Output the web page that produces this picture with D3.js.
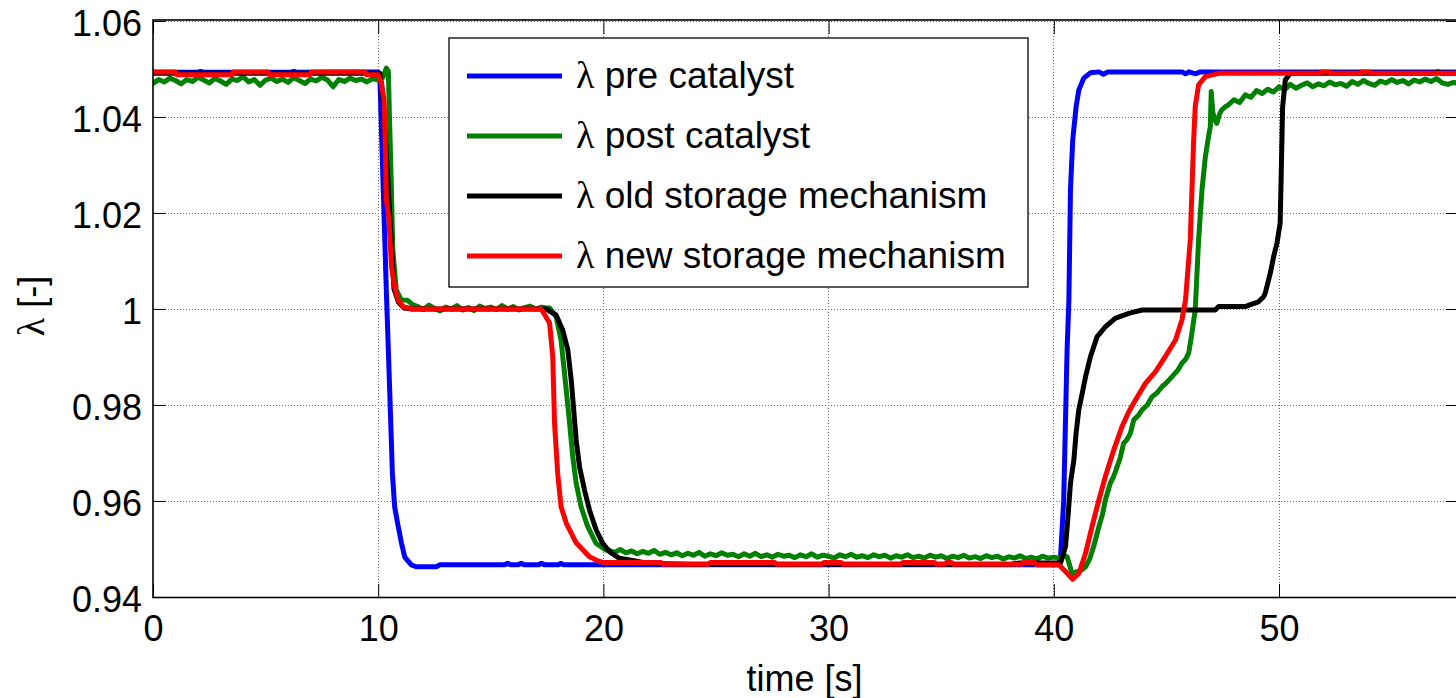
<!DOCTYPE html>
<html>
<head>
<meta charset="utf-8">
<script src="https://cdn.jsdelivr.net/npm/d3@7"></script>
<style>
  html, body { margin: 0; padding: 0; background: #fff; overflow: hidden; }
  svg { display: block; }
  text { font-family: "Liberation Sans", Arial, Helvetica, sans-serif; fill: #000; }
  .sym { font-family: "Liberation Serif", "Times New Roman", serif; }
</style>
</head>
<body>
<svg id="chart" width="1456" height="698"></svg>
<script>
// ---- Axis ticks ----
const xTicks = [0, 10, 20, 30, 40, 50];
const yTicks = [0.94, 0.96, 0.98, 1.00, 1.02, 1.04, 1.06];
const yTickLabels = ["0.94", "0.96", "0.98", "1", "1.02", "1.04", "1.06"];
const xLabel = "time [s]";
const yLabel = ["\u03bb", " [-]"];

// ---- Legend entries (plot order): symbol + description ----
const seriesNames = [
  ["\u03bb", " pre catalyst"],
  ["\u03bb", " post catalyst"],
  ["\u03bb", " old storage mechanism"],
  ["\u03bb", " new storage mechanism"]
];

// ---- Measured lambda traces, [time s, lambda] ----
const lambdaPre = [
  [0,1.0493],[2.0,1.0493],[2.1,1.0495],[2.3,1.0493],[6.1,1.0493],[6.25,1.0495],[6.45,1.0493],
  [10.0,1.0494],[10.07,1.0488],[10.36,1.0040],[10.51,0.9831],[10.63,0.9658],[10.73,0.9588],
  [10.86,0.9554],[11.03,0.9513],[11.18,0.9483],[11.47,0.9467],[11.69,0.9463],[12.58,0.9463],
  [12.73,0.9467],[15.6,0.9467],[15.75,0.9470],[15.9,0.9467],[16.2,0.9467],[16.35,0.9470],
  [16.5,0.9467],[17.1,0.9467],[17.25,0.9470],[17.4,0.9467],[18.0,0.9467],[18.1,0.9470],
  [18.25,0.9467],[40.22,0.9467],[40.30,0.9484],[40.44,0.9602],[40.59,0.9915],[40.67,1.0019],
  [40.74,1.0248],[40.84,1.0352],[40.99,1.0421],[41.11,1.0456],[41.33,1.0481],[41.63,1.0492],
  [42.0,1.0494],[42.2,1.0489],[42.4,1.0494],[45.7,1.0494],[45.85,1.0490],[46.0,1.0494],
  [46.3,1.0490],[46.5,1.0494],[58,1.0494]
];

const lambdaPost = [
  [0,1.0470],[0.25,1.0478],[0.5,1.0473],[0.75,1.0481],[1,1.0476],[1.25,1.0469],[1.5,1.0478],
  [1.75,1.0474],[2,1.0483],[2.25,1.0477],[2.5,1.0471],[2.75,1.0480],[3,1.0475],[3.25,1.0468],
  [3.5,1.0479],[3.75,1.0476],[4,1.0484],[4.25,1.0473],[4.5,1.0478],[4.75,1.0466],[5,1.0477],
  [5.25,1.0481],[5.5,1.0474],[5.75,1.0479],[6,1.0472],[6.25,1.0482],[6.5,1.0476],[6.75,1.0470],
  [7,1.0479],[7.25,1.0475],[7.5,1.0483],[7.75,1.0477],[8,1.0463],[8.25,1.0478],[8.5,1.0474],
  [8.75,1.0481],[9,1.0476],[9.25,1.0479],[9.5,1.0473],[9.75,1.0480],[10,1.0477],[10.2,1.0482],
  [10.36,1.0502],[10.45,1.0495],[10.5,1.0401],[10.58,1.0262],[10.65,1.0123],[10.8,1.0040],
  [11.02,1.0019],[11.3,1.0018],[11.5,1.0010],
  [11.75,1.0005],[12,0.9999],[12.25,1.0008],[12.5,1.0001],[12.75,0.9996],[13,1.0004],
  [13.25,1.0000],[13.5,1.0007],[13.75,0.9998],[14,1.0003],[14.25,0.9997],[14.5,1.0006],
  [14.75,1.0001],[15,1.0004],[15.25,0.9999],[15.5,1.0007],[15.75,1.0000],[16,1.0005],
  [16.25,0.9998],[16.5,1.0003],[16.75,1.0006],[17,1.0000],[17.25,1.0004],[17.45,1.0002],
  [17.61,1.0002],[17.9,0.9984],[18.12,0.9935],[18.35,0.9831],[18.5,0.9762],[18.64,0.9692],
  [18.79,0.9637],[19.01,0.9588],[19.3,0.9547],[19.67,0.9512],[20.1,0.9498],
  [20.25,0.9497],[20.5,0.9493],[20.75,0.9499],[21,0.9492],[21.25,0.9496],[21.5,0.9490],
  [21.75,0.9495],[22,0.9491],[22.25,0.9497],[22.5,0.9489],[22.75,0.9493],[23,0.9488],
  [23.25,0.9492],[23.5,0.9486],[23.75,0.9491],[24,0.9487],[24.25,0.9493],[24.5,0.9485],
  [24.75,0.9490],[25,0.9486],[25.25,0.9492],[25.5,0.9487],[25.75,0.9489],[26,0.9484],
  [26.25,0.9490],[26.5,0.9485],[26.75,0.9491],[27,0.9484],[27.25,0.9488],[27.5,0.9483],
  [27.75,0.9489],[28,0.9485],[28.25,0.9487],[28.5,0.9482],[28.75,0.9488],[29,0.9484],
  [29.25,0.9490],[29.5,0.9483],[29.75,0.9487],[30,0.9485],[30.25,0.9481],[30.5,0.9488],
  [30.75,0.9484],[31,0.9489],[31.25,0.9483],[31.5,0.9486],[31.75,0.9482],[32,0.9488],
  [32.25,0.9484],[32.5,0.9487],[32.75,0.9481],[33,0.9486],[33.25,0.9483],[33.5,0.9488],
  [33.75,0.9482],[34,0.9485],[34.25,0.9481],[34.5,0.9487],[34.75,0.9483],[35,0.9486],
  [35.25,0.9480],[35.5,0.9485],[35.75,0.9482],[36,0.9487],[36.25,0.9481],[36.5,0.9484],
  [36.75,0.9480],[37,0.9486],[37.25,0.9482],[37.5,0.9485],[37.75,0.9479],[38,0.9484],
  [38.25,0.9481],[38.5,0.9486],[38.75,0.9480],[39,0.9483],[39.25,0.9479],[39.5,0.9485],
  [39.75,0.9481],[40,0.9483],
  [40.22,0.9481],[40.45,0.9487],[40.59,0.9484],[40.81,0.9449],[41.03,0.9453],[41.2,0.9455],
  [41.41,0.9463],[41.6,0.9480],[41.77,0.9505],[42.0,0.9546],[42.15,0.9570],[42.29,0.9602],
  [42.51,0.9637],[42.65,0.9650],[42.81,0.9671],[42.95,0.9690],[43.10,0.9720],[43.25,0.9728],
  [43.40,0.9741],[43.55,0.9769],[43.75,0.9778],[43.92,0.9790],[44.15,0.9800],[44.36,0.9817],
  [44.6,0.9826],[44.80,0.9838],[45.0,0.9846],[45.25,0.9859],[45.5,0.9872],[45.69,0.9887],
  [45.85,0.9895],[45.99,0.9908],[46.13,0.9949],[46.28,0.9998],[46.43,1.0144],[46.58,1.0248],
  [46.73,1.0317],[46.87,1.0359],[46.95,1.0380],[46.99,1.0453],[47.06,1.0410],[47.14,1.0394],
  [47.24,1.0387],[47.35,1.0405],[47.46,1.0415],[47.61,1.0421],
  [47.75,1.0425],[48,1.0436],[48.25,1.0430],[48.5,1.0446],[48.75,1.0441],[49,1.0455],
  [49.25,1.0449],[49.5,1.0458],[49.75,1.0452],[50,1.0463],[50.25,1.0457],[50.5,1.0468],
  [50.75,1.0460],[51,1.0466],[51.25,1.0471],[51.5,1.0463],[51.75,1.0469],[52,1.0465],
  [52.25,1.0473],[52.5,1.0467],[52.75,1.0470],[53,1.0464],[53.25,1.0474],[53.5,1.0468],
  [53.75,1.0476],[54,1.0470],[54.25,1.0466],[54.5,1.0475],[54.75,1.0471],[55,1.0478],
  [55.25,1.0472],[55.5,1.0476],[55.75,1.0469],[56,1.0477],[56.25,1.0473],[56.5,1.0479],
  [56.75,1.0474],[57,1.0480],[57.25,1.0471],[57.5,1.0468],[57.75,1.0472],[58,1.0470]
];

const lambdaOld = [
  [0,1.0491],[10.07,1.0491],[10.15,1.0468],[10.25,1.0415],[10.7,1.0042],[10.9,1.0014],
  [11.15,1.0002],[11.5,1.0000],[17.46,1.0000],[17.90,0.99875],[18.19,0.99563],[18.42,0.99146],
  [18.57,0.98521],[18.67,0.97965],[18.79,0.97271],[18.94,0.96715],[19.16,0.96229],
  [19.38,0.95813],[19.68,0.95396],[19.97,0.95119],[20.27,0.94944],[20.71,0.94806],
  [21.30,0.9476],[22.0,0.9470],[24.0,0.9468],[38.0,0.9468],[38.5,0.9471],[40.30,0.9471],
  [40.52,0.9505],[40.63,0.9567],[40.74,0.9637],[40.89,0.9685],[40.99,0.9741],[41.11,0.9790],
  [41.26,0.9824],[41.41,0.9859],[41.63,0.9901],[41.92,0.9942],[42.29,0.9963],[42.74,0.9981],
  [43.33,0.9991],[43.92,0.9998],[47.17,0.9998],[47.32,1.0005],[48.50,1.0005],[48.79,1.0010],
  [49.09,1.0015],[49.31,1.0025],[49.39,1.0033],[49.61,1.0074],[49.76,1.0109],[49.91,1.0137],
  [50.05,1.0179],[50.10,1.0283],[50.16,1.0421],[50.28,1.0477],[50.50,1.0491],[56.9,1.0491],
  [57.05,1.0494],[57.2,1.0491],[58,1.0491]
];

const lambdaNew = [
  [0,1.0494],[0.98,1.0494],[1.05,1.0488],[3.5,1.0488],[3.57,1.0494],[5.1,1.0494],[5.17,1.0488],
  [6.96,1.0488],[7.03,1.0494],[9.4,1.0494],[9.47,1.0488],[10.0,1.0488],[10.14,1.0471],
  [10.26,1.0435],[10.32,1.0331],[10.36,1.0227],[10.47,1.0192],[10.59,1.0088],[10.73,1.0046],
  [10.88,1.0019],[11.10,1.0005],[11.5,1.0000],[17.24,1.0000],[17.61,0.9971],[17.75,0.9901],
  [17.83,0.9763],[17.97,0.9658],[18.12,0.9588],[18.35,0.9554],[18.79,0.9513],[19.38,0.9484],
  [19.82,0.9474],[20.0,0.9472],[22.55,0.9472],[22.65,0.9468],[24.65,0.9468],[24.75,0.9472],
  [27.6,0.9472],[27.7,0.9468],[29.7,0.9468],[29.8,0.9472],[30.55,0.9472],[30.65,0.9468],
  [33.2,0.9468],[33.3,0.9472],[34.7,0.9472],[34.8,0.9468],[35.15,0.9468],[35.25,0.9472],
  [35.45,0.9472],[35.55,0.9468],[38.55,0.9468],[38.65,0.9472],[39.15,0.9472],[39.25,0.9467],
  [40.22,0.9467],[40.52,0.9453],[40.84,0.9437],[41.11,0.9449],[41.41,0.9491],[41.70,0.9547],
  [42.0,0.9602],[42.29,0.9651],[42.66,0.9706],[43.03,0.9755],[43.33,0.9786],[43.62,0.9810],
  [44.07,0.9845],[44.51,0.9869],[44.95,0.9901],[45.40,0.9935],[45.69,0.9977],[45.85,1.0019],
  [46.06,1.0144],[46.21,1.0352],[46.28,1.0422],[46.43,1.0467],[46.73,1.0484],[47.32,1.0491],
  [51.8,1.0491],[51.9,1.0494],[52.2,1.0494],[52.3,1.0491],[53.6,1.0491],[53.7,1.0494],
  [54.0,1.0494],[54.1,1.0491],[58,1.0491]
];

const seriesData = [lambdaPre, lambdaPost, lambdaOld, lambdaNew];

// ---- Drawing ----
const seriesColors = ["#0000ff", "#008000", "#000000", "#ff0000"];
const svg = d3.select("#chart");

const x = d3.scaleLinear().domain([0, 58]).range([153, 153 + 58 * 22.52]);
const y = d3.scaleLinear().domain([0.94, 1.06]).range([597, 21]);
const [x0, x1] = x.range();
const [yB, yT] = y.range();

// dotted grid
const grid = svg.append("g")
  .attr("stroke", "#6e6e6e").attr("stroke-width", 1)
  .attr("stroke-dasharray", "1,2").attr("shape-rendering", "crispEdges");
grid.selectAll("line.gx").data(xTicks.filter(t => t > 0)).join("line")
  .attr("class", "gx")
  .attr("x1", d => x(d)).attr("x2", d => x(d)).attr("y1", yT).attr("y2", yB);
grid.selectAll("line.gy").data(yTicks).join("line")
  .attr("class", "gy")
  .attr("x1", x0).attr("x2", x1).attr("y1", d => y(d)).attr("y2", d => y(d));

// data lines
svg.append("clipPath").attr("id", "plotclip")
  .append("rect").attr("x", x0).attr("y", yT - 3).attr("width", x1 - x0).attr("height", yB - yT + 3);

const line = d3.line().x(d => x(d[0])).y(d => y(d[1]));
svg.append("g").attr("clip-path", "url(#plotclip)")
  .selectAll("path").data(seriesData).join("path")
  .attr("d", line)
  .attr("fill", "none")
  .attr("stroke", (d, i) => seriesColors[i])
  .attr("stroke-width", 5)
  .attr("stroke-linejoin", "round")
  .attr("stroke-linecap", "round");

// axes (ticks pointing inward, box frame)
const fontSize = 36;
const gx = svg.append("g").attr("transform", `translate(0,${yB})`)
  .call(d3.axisBottom(x).tickValues(xTicks).tickSizeInner(-13).tickSizeOuter(0).tickPadding(18));
gx.selectAll("text").attr("font-size", fontSize);

const gy = svg.append("g").attr("transform", `translate(${x0},0)`)
  .call(d3.axisLeft(y).tickValues(yTicks).tickFormat((d, i) => yTickLabels[i])
    .tickSizeInner(-13).tickSizeOuter(0).tickPadding(11));
gy.selectAll("text").attr("font-size", fontSize).attr("dy", "0.4em");

svg.append("g").attr("transform", `translate(0,${yT})`)
  .call(d3.axisTop(x).tickValues(xTicks).tickFormat("").tickSizeInner(-13).tickSizeOuter(0));
svg.append("g").attr("transform", `translate(${x1},0)`)
  .call(d3.axisRight(y).tickValues(yTicks).tickFormat("").tickSizeInner(-13).tickSizeOuter(0));

svg.selectAll(".domain").remove();
svg.selectAll(".tick line").attr("stroke", "#000").attr("stroke-width", 1);

svg.append("rect")
  .attr("x", x0).attr("y", yT - 1).attr("width", x1 - x0).attr("height", yB - yT + 1.5)
  .attr("fill", "none").attr("stroke", "#000").attr("stroke-width", 1.6);

// axis titles
svg.append("text")
  .attr("x", (x0 + 1456) / 2).attr("y", 691)
  .attr("text-anchor", "middle").attr("font-size", fontSize)
  .text(xLabel);
const yt = svg.append("text")
  .attr("transform", `translate(44,306) rotate(-90)`)
  .attr("text-anchor", "middle").attr("font-size", fontSize);
yt.append("tspan").attr("class", "sym").attr("font-size", 38).text(yLabel[0]);
yt.append("tspan").text(yLabel[1]);

// legend
const legend = svg.append("g");
legend.append("rect")
  .attr("x", 449).attr("y", 38).attr("width", 579).attr("height", 249)
  .attr("fill", "#fff").attr("stroke", "#000").attr("stroke-width", 1.3);
const rows = legend.selectAll("g.row").data(seriesNames).join("g")
  .attr("class", "row")
  .attr("transform", (d, i) => `translate(0,${76 + i * 60})`);
rows.append("line")
  .attr("x1", 467).attr("x2", 562).attr("y1", 0).attr("y2", 0)
  .attr("stroke", (d, i) => seriesColors[i]).attr("stroke-width", 5);
const lt = rows.append("text")
  .attr("x", 576).attr("y", 12)
  .attr("font-size", 37);
lt.append("tspan").attr("class", "sym").attr("font-size", 38).text(d => d[0]);
lt.append("tspan").text(d => d[1]);
</script>
</body>
</html>
